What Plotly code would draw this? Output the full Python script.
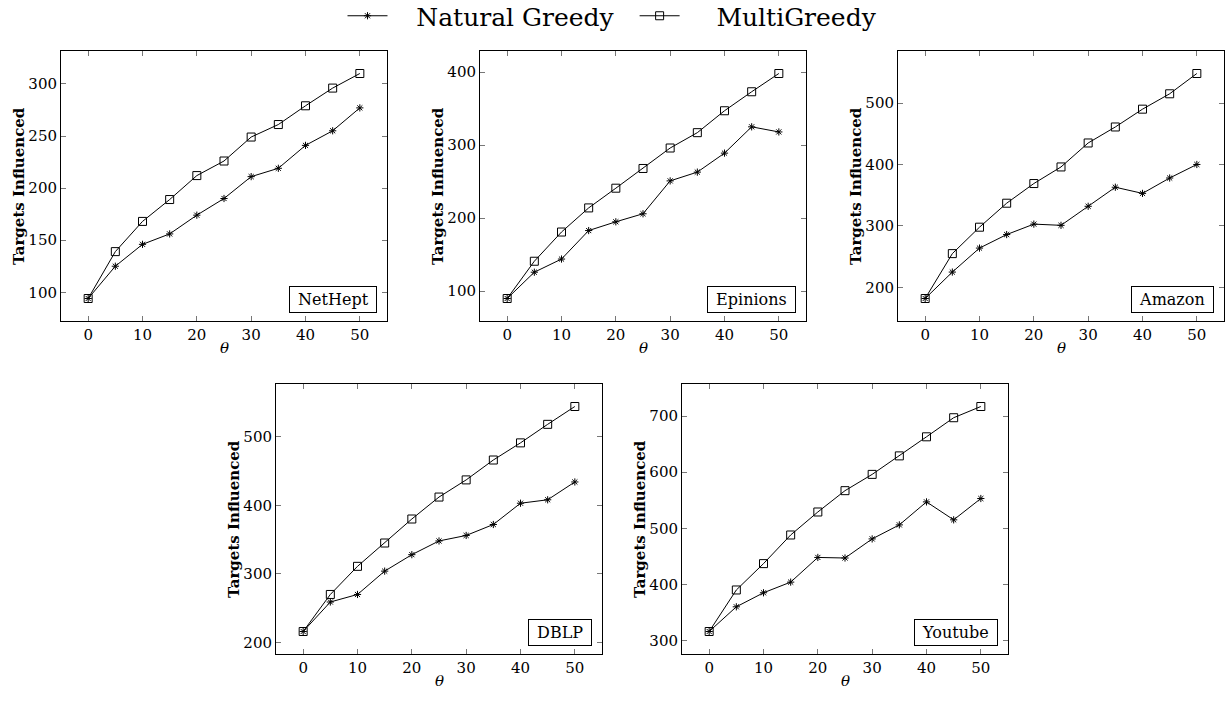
import plotly.graph_objects as go

theta = [0, 5, 10, 15, 20, 25, 30, 35, 40, 45, 50]

datasets = ["NetHept", "Epinions", "Amazon", "DBLP", "Youtube"]

natural_nethept = [94, 125, 146, 156, 174, 190, 211, 219, 241, 255, 277]
multi_nethept = [94, 139, 168, 189, 212, 226, 249, 261, 279, 296, 310]

natural_epinions = [90, 126, 144, 183, 195, 206, 251, 263, 289, 325, 318]
multi_epinions = [90, 141, 181, 214, 241, 268, 296, 317, 347, 373, 398]

natural_amazon = [182, 225, 264, 286, 303, 301, 332, 363, 353, 378, 400]
multi_amazon = [182, 255, 298, 337, 369, 396, 435, 461, 490, 515, 548]

natural_dblp = [216, 259, 270, 304, 328, 348, 356, 372, 403, 408, 434]
multi_dblp = [216, 270, 311, 345, 380, 412, 437, 466, 491, 518, 544]

natural_youtube = [316, 360, 385, 404, 448, 447, 481, 506, 547, 515, 553]
multi_youtube = [316, 390, 437, 488, 529, 567, 596, 629, 663, 697, 717]

natural = [natural_nethept, natural_epinions, natural_amazon, natural_dblp, natural_youtube]
multi = [multi_nethept, multi_epinions, multi_amazon, multi_dblp, multi_youtube]
ytick_step = [50, 100, 100, 100, 100]

W, H = 1225, 702
# panel pixel boxes (left, right, top, bottom)
boxes = [(61, 387, 51, 321), (480, 806, 51, 321), (898, 1224, 51, 321),
         (276, 602, 384, 654), (682, 1008, 384, 654)]

SERIF = "DejaVu Serif"
NB = "\u00a0"
fig = go.Figure()
layout = dict(
    width=W, height=H, margin=dict(l=0, r=0, t=0, b=0, autoexpand=False),
    plot_bgcolor="white", paper_bgcolor="white",
    font=dict(family=SERIF, color="black", size=15),
    showlegend=True,
    legend=dict(orientation="h", x=0.5, xanchor="center", y=1 - 16 / H, yanchor="middle",
                font=dict(family=SERIF, size=25), itemwidth=40,
                bgcolor="rgba(0,0,0,0)"),
)
legend_names = [NB * 3 + "Natural Greedy" + NB * 2, NB * 4 + "MultiGreedy"]
annotations = []
for i, name in enumerate(datasets):
    xa = "x" if i == 0 else f"x{i+1}"
    ya = "y" if i == 0 else f"y{i+1}"
    l, r, t, b = boxes[i]
    allv = natural[i] + multi[i]
    lo, hi = min(allv), max(allv)
    pad = 0.1 * (hi - lo)
    fig.add_trace(go.Scatter(
        x=theta, y=natural[i], mode="lines+markers", name=legend_names[0],
        line=dict(color="black", width=1),
        marker=dict(symbol="asterisk-open", size=6, color="black", line=dict(color="black", width=1)),
        xaxis=xa, yaxis=ya, showlegend=(i == 0)))
    fig.add_trace(go.Scatter(
        x=theta, y=multi[i], mode="lines+markers", name=legend_names[1],
        line=dict(color="black", width=1),
        marker=dict(symbol="square-open", size=8, color="black", line=dict(color="black", width=1)),
        xaxis=xa, yaxis=ya, showlegend=(i == 0)))
    axcommon = dict(showline=True, linecolor="black", linewidth=1, mirror="ticks",
                    ticks="inside", ticklen=5, tickcolor="#777", tickwidth=1,
                    showgrid=False, zeroline=False,
                    tickfont=dict(family=SERIF, size=15))
    xkey = "xaxis" if i == 0 else f"xaxis{i+1}"
    ykey = "yaxis" if i == 0 else f"yaxis{i+1}"
    layout[xkey] = dict(domain=[l / W, r / W], anchor=ya, range=[-5, 55],
                        tick0=0, dtick=10, **axcommon)
    layout[ykey] = dict(domain=[1 - b / H, 1 - t / H], anchor=xa,
                        range=[lo - pad, hi + pad], dtick=ytick_step[i], **axcommon)
    xd = "x domain" if i == 0 else f"x{i+1} domain"
    yd = "y domain" if i == 0 else f"y{i+1} domain"
    annotations.append(dict(text=NB + name + NB, xref=xd, yref=yd, x=0.969, y=0.03,
                            xanchor="right", yanchor="bottom", showarrow=False,
                            font=dict(family=SERIF, size=16),
                            bordercolor="black", borderwidth=1, borderpad=3,
                            bgcolor="white"))
    annotations.append(dict(text="<b>Targets Influenced</b>", xref=xd, yref=yd,
                            x=0, y=0.5, xshift=-42, xanchor="center", yanchor="middle",
                            textangle=-90, showarrow=False,
                            font=dict(family=SERIF, size=15)))
    annotations.append(dict(text="<i>θ</i>", xref=xd, yref=yd, x=0.5, y=0,
                            yshift=-27, xanchor="center", yanchor="middle",
                            showarrow=False, font=dict(family=SERIF, size=15)))
layout["annotations"] = annotations
fig.update_layout(**layout)
fig.write_html("out.html")
